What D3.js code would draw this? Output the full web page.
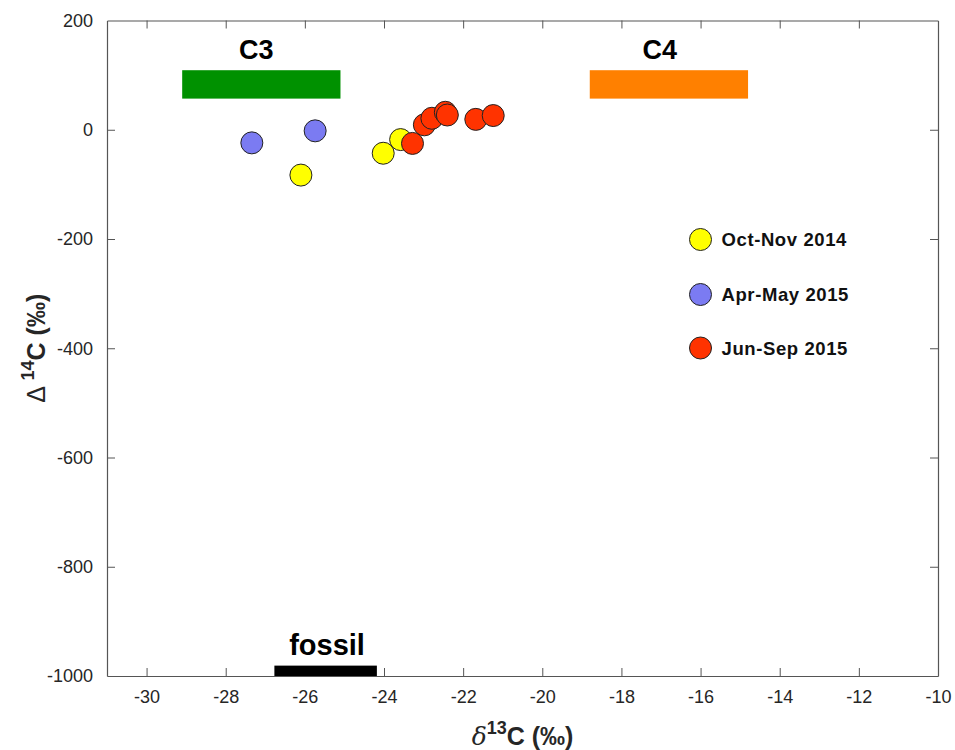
<!DOCTYPE html>
<html>
<head>
<meta charset="utf-8">
<script src="https://cdn.jsdelivr.net/npm/d3@7"></script>
<style>
  body { margin: 0; background: #fff; }
  text { font-family: Arial, "Liberation Sans", sans-serif; }
</style>
</head>
<body>
<div id="chart"></div>
<script>
// Data
var seasons = ["Oct-Nov 2014", "Apr-May 2015", "Jun-Sep 2015"];
var seasonColors = ["#ffff00", "#7b7bf2", "#ff3300"];

var octNovD13C = [-26.10, -24.02, -23.58];
var octNovD14C = [-83, -43, -18];
var aprMayD13C = [-27.34, -25.74];
var aprMayD14C = [-24, -2];
var junSepD13C = [-23.28, -22.98, -22.79, -22.45, -22.40, -21.68, -21.24];
var junSepD14C = [-25, 9, 21, 32, 27, 19, 26];

// end member ranges: [x0, x1, y0, y1]
var endMembers = ["C3", "C4", "fossil"];
var endColors = ["#009100", "#ff8000", "#000000"];
var endX0 = [-29.1, -18.8, -26.77];
var endX1 = [-25.1, -14.8, -24.18];
var endY0 = [57, 57, -1000];
var endY1 = [109, 109, -981];
var labelX = [-27.23, -17.03, -25.44];
var labelY = [129, 129, -962];

var xTicks = [-30, -28, -26, -24, -22, -20, -18, -16, -14, -12, -10];
var yTicks = [200, 0, -200, -400, -600, -800, -1000];

var width = 955, height = 750;
var margin = {left: 107, right: 17, top: 20.5, bottom: 74};

var svg = d3.select("#chart").append("svg")
  .attr("width", width)
  .attr("height", height);

var x = d3.scaleLinear().domain([-31, -10]).range([margin.left, width - margin.right]);
var y = d3.scaleLinear().domain([-1000, 200]).range([height - margin.bottom, margin.top]);

var axisColor = "#555";
var textColor = "#262626";

// axes, ticks inward, box on
var tickLen = 8;
var xAxisB = d3.axisBottom(x).tickValues(xTicks).tickSizeInner(-tickLen).tickSizeOuter(0).tickPadding(14);
var xAxisT = d3.axisTop(x).tickValues(xTicks).tickSizeInner(-tickLen).tickSizeOuter(0).tickFormat("");
var yAxisL = d3.axisLeft(y).tickValues(yTicks).tickSizeInner(-tickLen).tickSizeOuter(0).tickPadding(14);
var yAxisR = d3.axisRight(y).tickValues(yTicks).tickSizeInner(-tickLen).tickSizeOuter(0).tickFormat("");

var minus = function(d) { return String(d); };
xAxisB.tickFormat(minus);
yAxisL.tickFormat(minus);

var gb = svg.append("g").attr("transform", "translate(0," + y(-1000) + ")").call(xAxisB);
var gt = svg.append("g").attr("transform", "translate(0," + y(200) + ")").call(xAxisT);
var gl = svg.append("g").attr("transform", "translate(" + x(-31) + ",0)").call(yAxisL);
var gr = svg.append("g").attr("transform", "translate(" + x(-10) + ",0)").call(yAxisR);

[gb, gt, gl, gr].forEach(function(g) {
  g.select(".domain").attr("stroke", axisColor).attr("stroke-width", 1.2);
  g.selectAll(".tick line").attr("stroke", axisColor).attr("stroke-width", 1);
  g.selectAll(".tick text")
    .attr("fill", textColor)
    .attr("font-size", 18)
    .style("font-family", "Arial, 'Liberation Sans', sans-serif");
});
// hide tick marks that sit on the box corners
gb.selectAll(".tick").filter(function(d) { return d == -10; }).select("line").remove();
gt.selectAll(".tick").filter(function(d) { return d == -10; }).select("line").remove();
gl.selectAll(".tick").filter(function(d) { return d == 200 || d == -1000; }).select("line").remove();
gr.selectAll(".tick").filter(function(d) { return d == 200 || d == -1000; }).select("line").remove();

// end member bars (over the axes)
endMembers.forEach(function(name, i) {
  svg.append("rect")
    .attr("x", x(endX0[i]))
    .attr("y", y(endY1[i]))
    .attr("width", x(endX1[i]) - x(endX0[i]))
    .attr("height", y(endY0[i]) - y(endY1[i]))
    .attr("fill", endColors[i]);
  svg.append("text")
    .attr("x", x(labelX[i]))
    .attr("y", y(labelY[i]))
    .attr("text-anchor", "middle")
    .attr("font-weight", "bold")
    .attr("font-size", i == 2 ? 29 : 27)
    .attr("fill", "#000")
    .text(name);
});

// points
var groups = [
  {xs: octNovD13C, ys: octNovD14C, c: seasonColors[0]},
  {xs: aprMayD13C, ys: aprMayD14C, c: seasonColors[1]},
  {xs: junSepD13C, ys: junSepD14C, c: seasonColors[2]}
];
groups.forEach(function(g) {
  svg.append("g").selectAll("circle")
    .data(g.xs)
    .enter()
    .append("circle")
    .attr("cx", function(d) { return x(d); })
    .attr("cy", function(d, i) { return y(g.ys[i]); })
    .attr("r", 11)
    .attr("fill", g.c)
    .attr("stroke", "#222")
    .attr("stroke-width", 1);
});

// legend
var legend = svg.append("g").attr("transform", "translate(700.5,239.5)");
seasons.forEach(function(s, i) {
  var row = legend.append("g").attr("transform", "translate(0," + [0, 55, 108.5][i] + ")");
  row.append("circle")
    .attr("r", 11)
    .attr("fill", seasonColors[i])
    .attr("stroke", "#222")
    .attr("stroke-width", 1);
  row.append("text")
    .attr("x", 21)
    .attr("y", 6.5)
    .attr("font-size", 18.5)
    .attr("font-weight", "bold")
    .attr("letter-spacing", 0.6)
    .attr("fill", "#111")
    .text(s);
});

// axis labels
var xl = svg.append("text")
  .attr("x", (x(-31) + x(-10)) / 2)
  .attr("y", 745)
  .attr("text-anchor", "middle")
  .attr("font-size", 25)
  .attr("font-weight", "bold")
  .attr("fill", textColor);
xl.append("tspan").attr("font-family", "'DejaVu Serif', serif").attr("font-style", "italic").attr("font-weight", "normal").text("δ");
xl.append("tspan").attr("font-size", 18).attr("dy", -11).text("13");
xl.append("tspan").attr("dy", 11).text("C (‰)");

var yl = svg.append("text")
  .attr("transform", "translate(45," + (y(-1000) + y(200)) / 2 + ") rotate(-90)")
  .attr("text-anchor", "middle")
  .attr("font-size", 25)
  .attr("font-weight", "bold")
  .attr("fill", textColor);
yl.append("tspan").attr("font-weight", "normal").text("Δ ");
yl.append("tspan").attr("font-size", 18).attr("dy", -11).text("14");
yl.append("tspan").attr("dy", 11).text("C (‰)");
</script>
</body>
</html>
